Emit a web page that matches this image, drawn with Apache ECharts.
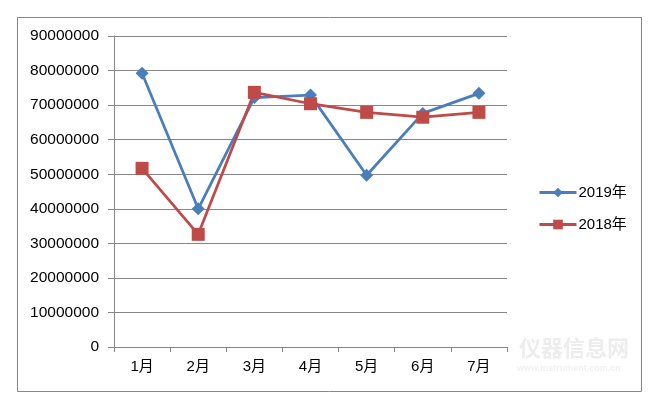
<!DOCTYPE html>
<html>
<head>
<meta charset="utf-8">
<script src="https://cdn.jsdelivr.net/npm/echarts@6/dist/echarts.min.js"></script>
<style>html,body{margin:0;padding:0;background:#fff}#c{width:663px;height:398px}</style>
</head>
<body>
<div id="c"></div>
<script>
const categories = ['1月','2月','3月','4月','5月','6月','7月'];
const seriesNames = ['2019年','2018年'];
const values2019 = [79200000, 40000000, 72200000, 72900000, 49700000, 67600000, 73400000];
const values2018 = [51700000, 32600000, 73700000, 70400000, 67900000, 66500000, 67900000];
const yMin = 0, yMax = 90000000, yStep = 10000000;

const font = "'Liberation Sans','Noto Sans CJK SC',sans-serif";
const chart = echarts.init(document.getElementById('c'));
chart.setOption({
  animation: false,
  backgroundColor: '#fff',
  textStyle: { fontFamily: font },
  grid: { left: 114, top: 36, right: 156, bottom: 51 },
  graphic: [
    { type: 'rect', shape: { x: 17.5, y: 17.5, width: 624, height: 374 }, style: { fill: 'none', stroke: '#878787', lineWidth: 1 }, z: -1 },
    { type: 'text', left: 519, top: 337, style: { text: '仪器信息网', fill: '#ededed', font: "bold 22px 'Noto Sans CJK SC'" }, z: -1 },
    { type: 'text', left: 517, top: 364, style: { text: 'www.instrument.com.cn', fill: '#f0f0f0', font: "bold 9px 'Liberation Sans'" }, z: -1 }
  ],
  legend: {
    orient: 'vertical', left: 533, top: 180, itemWidth: 37, itemHeight: 12, itemGap: 17,
    lineStyle: { width: 3 },
    textStyle: { fontSize: 15, color: '#000', fontFamily: font, padding: [0,0,0,-3] },
    data: seriesNames
  },
  xAxis: {
    type: 'category', data: categories, boundaryGap: true,
    axisLine: { lineStyle: { color: '#868686', width: 1 } },
    axisTick: { show: true, length: 5, lineStyle: { color: '#868686' } },
    axisLabel: { fontSize: 15, color: '#000', margin: 12, fontFamily: font }
  },
  yAxis: {
    type: 'value', min: yMin, max: yMax, interval: yStep,
    axisLine: { show: true, lineStyle: { color: '#868686', width: 1 } },
    axisTick: { show: true, length: 6, lineStyle: { color: '#868686' } },
    axisLabel: { fontSize: 15.5, color: '#000', margin: 15, fontFamily: font, formatter: v => String(v) },
    splitLine: { lineStyle: { color: '#868686', width: 1 } }
  },
  series: [
    { name: seriesNames[0], type: 'line', data: values2019, symbol: 'diamond', symbolSize: 13,
      lineStyle: { color: '#4A7EBB', width: 2.75 }, itemStyle: { color: '#4A7EBB' } },
    { name: seriesNames[1], type: 'line', data: values2018, symbol: 'rect', symbolSize: 13,
      lineStyle: { color: '#BE4B48', width: 2.75 }, itemStyle: { color: '#BE4B48' } }
  ]
});
</script>
</body>
</html>
